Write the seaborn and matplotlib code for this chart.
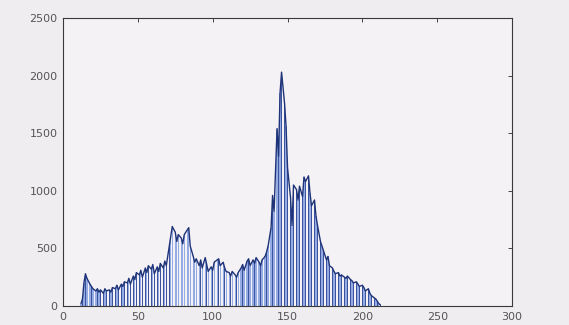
import numpy as np
import pandas as pd
import matplotlib
matplotlib.use("Agg")
import matplotlib.pyplot as plt
import seaborn as sns

# Grey-level histogram: pixel counts per intensity level, starting at level 12
first_level = 12
counts = [
    20, 60, 200, 280, 240, 0, 190, 170, 150, 0,
    130, 150, 120, 140, 0, 110, 150, 130, 0, 140,
    120, 160, 0, 150, 180, 140, 0, 190, 170, 210,
    0, 200, 240, 190, 0, 260, 230, 290, 0, 270,
    310, 250, 0, 330, 290, 350, 0, 320, 360, 280,
    0, 340, 300, 370, 0, 330, 390, 350, 0, 520,
    610, 690, 0, 640, 560, 620, 0, 590, 540, 620,
    0, 660, 680, 520, 0, 430, 380, 410, 0, 350,
    400, 330, 0, 420, 360, 300, 0, 340, 310, 380,
    0, 400, 410, 350, 0, 380, 330, 300, 0, 290,
    260, 300, 0, 270, 250, 290, 0, 330, 360, 310,
    0, 390, 410, 350, 0, 400, 370, 420, 0, 380,
    350, 400, 0, 430, 470, 520, 0, 680, 960, 820,
    0, 1540, 1300, 1850, 2030, 0, 1760, 1560, 1200, 0,
    940, 700, 1050, 0, 1010, 920, 1040, 0, 950, 1120,
    1080, 0, 1130, 980, 870, 0, 920, 780, 700, 0,
    560, 520, 480, 0, 400, 430, 350, 0, 330, 300,
    280, 0, 290, 260, 270, 0, 250, 240, 260, 0,
    230, 220, 200, 0, 210, 190, 170, 0, 180, 160,
    130, 0, 150, 110, 90, 0, 70, 60, 40, 20,
    10,
]
levels = np.arange(first_level, first_level + len(counts))
x_ticks = [0, 50, 100, 150, 200, 250, 300]
y_ticks = [0, 500, 1000, 1500, 2000, 2500]

df = pd.DataFrame({"level": levels, "pixels": counts})
nonzero = df[df["pixels"] > 0]

sns.set_theme(style="white")
plt.rcParams["font.family"] = ["DejaVu Sans"]

fig = plt.figure(figsize=(5.69, 3.25), dpi=100, facecolor="#efedf0")
ax = fig.add_axes([0.1107, 0.0585, 0.7893, 0.8861])
ax.set_facecolor("#f4f2f5")

# Light stems: one bar per intensity level
sns.histplot(data=df, x="level", weights="pixels", discrete=True, shrink=0.85,
             color="#8aa4e2", edgecolor="none", linewidth=0, alpha=0.9,
             ax=ax)
# Dark core of each stem
sns.histplot(data=df, x="level", weights="pixels", discrete=True, shrink=0.3,
             color="#2c4591", edgecolor="none", linewidth=0, alpha=0.85,
             ax=ax)
# Dark outline along the tops of the occupied levels
sns.lineplot(data=nonzero, x="level", y="pixels", color="#1f3478",
             linewidth=1.0, ax=ax)

ax.set_xlim(0, 300)
ax.set_ylim(0, 2500)
ax.set_xticks(x_ticks)
ax.set_yticks(y_ticks)
ax.set_xlabel("")
ax.set_ylabel("")
ax.tick_params(direction="in", top=True, right=True, length=3, width=0.7,
               color="#444444", labelsize=8, labelcolor="#555555", pad=4)
for s in ax.spines.values():
    s.set_visible(True)
    s.set_color("#3a3a3a")
    s.set_linewidth(0.8)

fig.savefig("out.png", dpi=100, facecolor=fig.get_facecolor())
